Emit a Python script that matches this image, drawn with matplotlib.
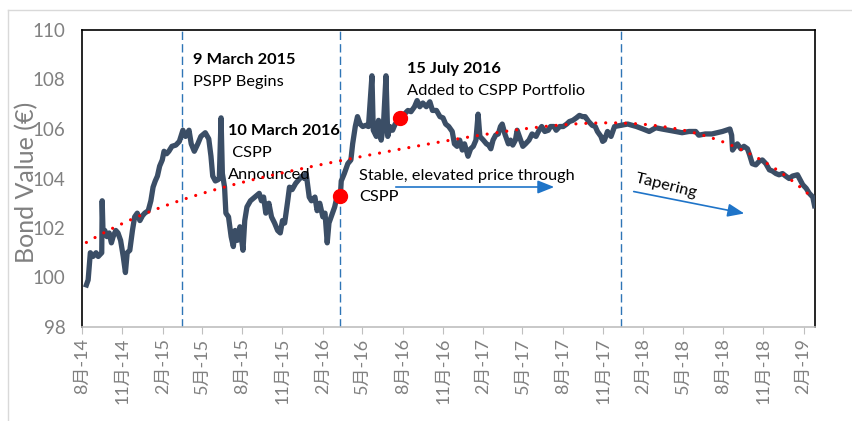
import matplotlib
matplotlib.use("Agg")
import matplotlib.pyplot as plt
import matplotlib.dates as mdates
from matplotlib.lines import Line2D
import numpy as np
import pandas as pd

# bond price trace
dates = [
    "2014-08-11", "2014-08-15", "2014-08-20", "2014-08-26", "2014-09-02", "2014-09-07",
    "2014-09-15", "2014-09-16", "2014-09-18", "2014-09-22", "2014-09-27", "2014-10-02",
    "2014-10-07", "2014-10-11", "2014-10-17", "2014-10-22", "2014-10-28", "2014-11-03",
    "2014-11-08", "2014-11-12", "2014-11-18", "2014-11-24", "2014-11-29", "2014-12-05",
    "2014-12-11", "2014-12-17", "2014-12-22", "2014-12-30", "2015-01-05", "2015-01-10",
    "2015-01-15", "2015-01-20", "2015-01-25", "2015-01-31", "2015-02-04", "2015-02-10",
    "2015-02-15", "2015-02-22", "2015-03-03", "2015-03-11", "2015-03-19", "2015-03-25",
    "2015-04-02", "2015-04-07", "2015-04-14", "2015-04-22", "2015-04-29", "2015-05-09",
    "2015-05-17", "2015-05-22", "2015-05-26", "2015-06-01", "2015-06-07", "2015-06-10",
    "2015-06-14", "2015-06-17", "2015-06-22", "2015-06-25", "2015-07-01", "2015-07-07",
    "2015-07-12", "2015-07-16", "2015-07-21", "2015-07-27", "2015-08-03", "2015-08-07",
    "2015-08-12", "2015-08-20", "2015-08-30", "2015-09-09", "2015-09-14", "2015-09-19",
    "2015-09-24", "2015-10-01", "2015-10-07", "2015-10-14", "2015-10-21", "2015-10-27",
    "2015-11-01", "2015-11-06", "2015-11-13", "2015-11-17", "2015-11-23", "2015-12-01",
    "2015-12-08", "2015-12-16", "2015-12-21", "2015-12-25", "2016-01-01", "2016-01-06",
    "2016-01-14", "2016-01-19", "2016-01-25", "2016-02-01", "2016-02-06", "2016-02-11",
    "2016-02-15", "2016-02-20", "2016-02-28", "2016-03-06", "2016-03-12", "2016-03-14",
    "2016-03-21", "2016-03-29", "2016-04-05", "2016-04-09", "2016-04-15", "2016-04-20",
    "2016-04-26", "2016-05-02", "2016-05-09", "2016-05-15", "2016-05-23", "2016-05-26",
    "2016-06-02", "2016-06-07", "2016-06-13", "2016-06-18", "2016-06-24", "2016-06-28",
    "2016-07-03", "2016-07-09", "2016-07-15", "2016-07-28", "2016-08-05", "2016-08-13",
    "2016-08-20", "2016-08-28", "2016-09-03", "2016-09-09", "2016-09-16", "2016-09-24",
    "2016-10-02", "2016-10-08", "2016-10-17", "2016-10-25", "2016-11-01", "2016-11-07",
    "2016-11-14", "2016-11-22", "2016-11-27", "2016-12-03", "2016-12-09", "2016-12-15",
    "2016-12-20", "2016-12-28", "2017-01-03", "2017-01-09", "2017-01-15", "2017-01-20",
    "2017-01-24", "2017-02-01", "2017-02-08", "2017-02-13", "2017-02-18", "2017-02-23",
    "2017-03-01", "2017-03-07", "2017-03-12", "2017-03-16", "2017-03-22", "2017-03-30",
    "2017-04-04", "2017-04-09", "2017-04-15", "2017-04-19", "2017-04-27", "2017-05-02",
    "2017-05-08", "2017-05-16", "2017-05-23", "2017-06-01", "2017-06-08", "2017-06-14",
    "2017-06-21", "2017-06-29", "2017-07-04", "2017-07-12", "2017-07-17", "2017-07-25",
    "2017-08-02", "2017-08-10", "2017-08-16", "2017-08-24", "2017-09-01", "2017-09-08",
    "2017-09-15", "2017-09-21", "2017-09-29", "2017-10-07", "2017-10-14", "2017-10-19",
    "2017-10-27", "2017-10-31", "2017-11-04", "2017-11-09", "2017-11-11", "2017-11-19",
    "2017-11-27", "2017-12-12", "2017-12-27", "2018-01-16", "2018-01-31", "2018-02-14",
    "2018-03-01", "2018-03-15", "2018-03-31", "2018-04-15", "2018-04-30", "2018-05-16",
    "2018-05-31", "2018-06-07", "2018-06-22", "2018-07-07", "2018-07-31", "2018-08-17",
    "2018-08-21", "2018-08-23", "2018-08-29", "2018-09-03", "2018-09-11", "2018-09-18",
    "2018-09-26", "2018-10-01", "2018-10-07", "2018-10-15", "2018-10-23", "2018-10-30",
    "2018-11-07", "2018-11-15", "2018-11-22", "2018-11-30", "2018-12-07", "2018-12-15",
    "2018-12-22", "2018-12-30", "2019-01-07", "2019-01-18", "2019-01-24", "2019-01-30",
    "2019-02-07", "2019-02-14", "2019-02-22", "2019-02-26",
]
values = [
    99.7, 99.9, 101.0, 100.85, 101.0, 100.85,
    101.0, 103.1, 101.8, 101.9, 101.65, 101.8,
    101.4, 101.65, 101.9, 101.8, 101.5, 100.85,
    100.2, 101.0, 101.1, 101.9, 102.45, 102.6,
    102.3, 102.5, 102.6, 102.7, 103.1, 103.65,
    103.9, 104.1, 104.5, 104.75, 105.1, 105.0,
    105.1, 105.3, 105.35, 105.5, 105.95, 105.7,
    105.95, 105.4, 105.1, 105.4, 105.7, 105.85,
    105.6, 104.9, 104.1, 103.9, 103.95, 104.0,
    106.45, 104.2, 103.65, 102.6, 102.45, 101.65,
    101.25, 101.9, 101.5, 102.05, 101.1, 102.3,
    102.85, 103.1, 103.25, 103.4, 103.1, 103.25,
    102.6, 103.0, 102.45, 102.2, 101.9, 101.8,
    102.3, 102.2, 103.1, 103.65, 103.55, 103.8,
    103.95, 104.1, 104.0, 104.2, 103.25, 103.1,
    103.25, 102.7, 103.0, 102.45, 102.6, 101.4,
    102.2, 102.45, 102.85, 103.4, 103.3, 103.9,
    104.2, 104.6, 104.75, 105.4, 106.1, 106.5,
    106.2, 106.1, 106.15, 106.1, 108.15, 105.95,
    105.7, 106.35, 105.55, 106.1, 108.15, 105.7,
    106.1, 105.95, 106.2, 106.45, 106.6, 106.75,
    106.7, 106.9, 107.15, 106.9, 107.05, 106.9,
    107.1, 106.75, 106.75, 106.5, 106.45, 106.2,
    106.1, 105.9, 105.4, 105.3, 105.55, 105.15,
    105.4, 104.9, 105.2, 105.3, 105.55, 106.6,
    105.7, 105.55, 105.4, 105.35, 105.2, 105.55,
    105.75, 105.8, 106.1, 106.2, 105.8, 105.4,
    105.55, 105.35, 105.55, 105.95, 105.55, 105.3,
    105.4, 105.55, 105.8, 105.7, 105.95, 106.1,
    105.9, 105.95, 106.1, 106.1, 105.95, 106.1,
    106.1, 106.2, 106.3, 106.35, 106.45, 106.55,
    106.5, 106.5, 106.3, 106.15, 106.1, 105.9,
    105.7, 105.5, 105.55, 105.8, 105.9, 105.7,
    106.1, 106.15, 106.2, 106.1, 106.0, 105.9,
    106.05, 106.0, 105.95, 105.9, 105.85, 105.9,
    105.9, 105.75, 105.8, 105.8, 105.9, 106.0,
    105.75, 105.15, 105.3, 105.4, 105.2, 105.3,
    105.2, 104.95, 104.6, 104.55, 104.7, 104.75,
    104.6, 104.35, 104.3, 104.2, 104.15, 104.2,
    104.1, 104.0, 104.1, 104.15, 103.95, 103.75,
    103.6, 103.4, 103.25, 102.9,
]

event_dates = ["2015-03-18", "2016-03-12", "2017-12-11"]
dot_dates = ["2016-03-12", "2016-07-26"]
dot_values = [103.3, 106.45]

x = pd.to_datetime(dates)
xn = mdates.date2num(x)
y = np.array(values)

grey = "#808080"
font = ["Lato", "Noto Sans CJK SC", "DejaVu Sans"]
plt.rcParams["font.family"] = font

fig = plt.figure(figsize=(8.53, 4.21), dpi=100)
ax = fig.add_axes([82 / 853, 1 - 327 / 421, (815 - 82) / 853, (327 - 30) / 421])

# chart area border
fig.add_artist(Line2D([8 / 853, 1], [1 - 10 / 421, 1 - 10 / 421], color="#d9d9d9", lw=1))
fig.add_artist(Line2D([8 / 853, 8 / 853], [0, 1 - 10 / 421], color="#d9d9d9", lw=1))

ax.plot(x, y, color="#3b4e66", lw=3.8, solid_joinstyle="round", zorder=3)

# polynomial trend line, like Excel's
coef = np.polyfit(xn - xn[0], y, 4)
xt = np.linspace(xn[0], xn[-1], 400)
ax.plot(mdates.num2date(xt), np.polyval(coef, xt - xn[0]), color="red", lw=2.3,
        linestyle=(0, (0.01, 3.1)), dash_capstyle="round", zorder=4)

for d in event_dates:
    ax.axvline(pd.Timestamp(d), color="#2e75b6", lw=1, linestyle=(0, (6, 3)), zorder=2)

ax.plot(pd.to_datetime(dot_dates), dot_values, "o", color="red", ms=10, zorder=5)

ax.set_ylim(98, 110)
ax.set_xlim(pd.Timestamp("2014-08-01"), pd.Timestamp("2019-02-27"))
ax.set_yticks(range(98, 111, 2))
ax.tick_params(axis="y", length=0, labelsize=13.5, labelcolor=grey, pad=12)

ax.xaxis.set_major_locator(mdates.MonthLocator(bymonth=[2, 5, 8, 11]))
ax.xaxis.set_major_formatter(plt.FuncFormatter(
    lambda v, p: f"{mdates.num2date(v).month}月-{mdates.num2date(v).year % 100}"))
ax.tick_params(axis="x", length=5, color="#bfbfbf", labelsize=13, labelcolor=grey,
               rotation=90, pad=3)

for s in ["left", "top", "right"]:
    ax.spines[s].set_color("black")
    ax.spines[s].set_linewidth(1.2)
ax.spines["bottom"].set_color("#bfbfbf")
ax.spines["bottom"].set_linewidth(1.2)

fig.text(27 / 853, 1 - 182 / 421, "Bond Value (€)", rotation=90, color=grey,
         fontsize=18, ha="center", va="center")

# annotations (axes fraction coordinates)
def tx(px, py, s, **kw):
    ax.text((px - 82) / 733, (327 - py) / 297, s, transform=ax.transAxes,
            fontsize=11.8, va="center", ha="left", **kw)

tx(193, 60, "9 March 2015", fontweight="bold")
tx(193, 82, "PSPP Begins")
tx(228, 131, "10 March 2016", fontweight="bold")
tx(228, 153, " CSPP")
tx(228, 175, "Announced")
tx(407, 69, "15 July 2016", fontweight="bold")
tx(407, 91, "Added to CSPP Portfolio")
tx(359, 176, "Stable, elevated price through")
tx(359, 197, "CSPP")
ax.text((666 - 82) / 733, (327 - 186) / 297, "Tapering", transform=ax.transAxes,
        fontsize=11.8, rotation=-14, ha="center", va="center")

arrow = dict(arrowstyle="-|>,head_length=1.0,head_width=0.4", color="#1f74c8", lw=1.2)
ax.annotate("", xy=((557 - 82) / 733, (327 - 187) / 297), xycoords="axes fraction",
            xytext=((393 - 82) / 733, (327 - 187) / 297), textcoords="axes fraction",
            arrowprops=arrow)
ax.annotate("", xy=((747 - 82) / 733, (327 - 214) / 297), xycoords="axes fraction",
            xytext=((631 - 82) / 733, (327 - 191) / 297), textcoords="axes fraction",
            arrowprops=arrow)

fig.savefig("out.png", dpi=100)
